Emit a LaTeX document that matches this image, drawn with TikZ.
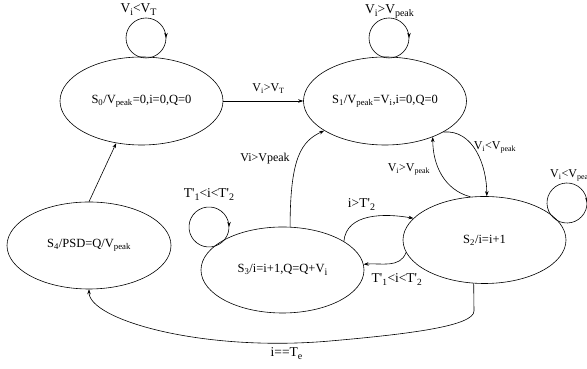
\documentclass[tikz,border=0pt]{standalone}
\usepackage{fontspec}
\setmainfont{Liberation Serif}
\usetikzlibrary{shapes.geometric,arrows.meta,decorations.markings}
\newcommand\sbs[1]{\textsubscript{#1}}
\newcommand\lsb[1]{\raisebox{-0.45ex}{\fontsize{10}{10}\selectfont #1}}
\newcommand\prm{\textquotesingle}
\begin{document}
\begin{tikzpicture}[x=1pt,y=1pt,
  st/.style={ellipse,draw,line width=0.6pt,minimum width=163pt,minimum height=88pt,inner sep=0pt,font=\fontsize{12.5}{14}\selectfont},
  lab/.style={anchor=base,inner sep=0pt,font=\fontsize{12}{14}\selectfont},
  biglab/.style={anchor=base,inner sep=0pt,font=\fontsize{13.5}{15}\selectfont},
  tr/.style={line width=0.6pt,-{Stealth[length=5pt,width=3.5pt]}},
  loopst/.style={line width=0.6pt,postaction={decorate},decoration={markings,mark=at position #1 with {\arrow{Stealth[length=5pt,width=3.5pt]}}}}
]
\useasboundingbox (0,0) rectangle (587,369);
% states
\node[st] (s0) at (141.5,268) {S\sbs{0}/V\sbs{peak}=0,i=0,Q=0};
\node[st] (s1) at (385,268) {S\sbs{1}/V\sbs{peak}=V\sbs{i},i=0,Q=0};
\node[st,minimum height=87pt] (s2) at (484.5,129) {S\sbs{2}/i=i+1};
\node[st,minimum height=86pt] (s3) at (282.5,99) {S\sbs{3}/i=i+1,Q=Q+V\lsb{i}};
\node[st,minimum height=87pt,minimum width=164pt] (s4) at (89,123.5) {S\sbs{4}/PSD=Q/V\sbs{peak}};
% self loops
\coordinate (l0) at (146,331);
\coordinate (l1) at (389,331);
\coordinate (l2) at (567,166);
\coordinate (l3) at (209,142);
\draw[loopst=0.75] (l0) ++(270:20) arc[start angle=270,end angle=-90,radius=20];
\draw[loopst=0.75] (l1) ++(270:20) arc[start angle=270,end angle=-90,radius=20];
\draw[loopst=0.63] (l2) ++(227:20) arc[start angle=227,end angle=-133,radius=20];
\draw[loopst=0.80] (l3) ++(288:20) arc[start angle=288,end angle=-72,radius=20];
% transitions
\draw[tr] (s0.east) -- (s1.west);
\draw[tr] (s4.north) -- (s0.239);
\draw[tr] (s3.80) to[out=90,in=205,out distance=70pt,in distance=25pt] (s1.206);
\draw[tr] (s1.-28) to[out=5,in=90] (s2.87);
\draw[tr] (s2.108) to[out=165,in=-90] (s1.-37);
\draw[tr] (s3.25) to[out=85,in=170] (s2.163);
\draw[tr] (s2.189) to[out=250,in=5] (s3.4);
\coordinate (c1) at (474,58);
\coordinate (bot) at (330,28);
\draw[tr] (s2.256) -- (c1) to[out=-90,in=5,out distance=15pt,in distance=80pt] (bot)
  to[out=185,in=-90,out distance=130pt,in distance=30pt] (s4.south);
% labels
\node[biglab] (lb0) at (138.5,356) {V\lsb{i}<V\lsb{T}};
\node[biglab] (lb1) at (389.5,355) {V\lsb{i}>V\lsb{peak}};
\node[lab] (lb01) at (268.5,277) {V\sbs{i}>V\sbs{T}};
\node[lab] (lb31) at (265,207) {Vi>Vpeak};
\node[lab] (lb21) at (409,197) {V\sbs{i}>V\sbs{peak}};
\node[lab] (lb12) at (495,219) {V\sbs{i}<V\sbs{peak}};
\node[lab,anchor=base west] (lb22) at (550,191) {V\sbs{i}<V\sbs{peak}};
\node[biglab] (lb32) at (361.5,161) {i>T\prm\lsb{2}};
\node[biglab] (lb23) at (397,86) {T\prm\sbs{1}<i<T\prm\sbs{2}};
\node[biglab] (lb33) at (209,171) {T\prm\lsb{1}<i<T\prm\lsb{2}};
\node[biglab] (lb24) at (286.5,12) {i==T\lsb{e}};
\end{tikzpicture}
\end{document}
